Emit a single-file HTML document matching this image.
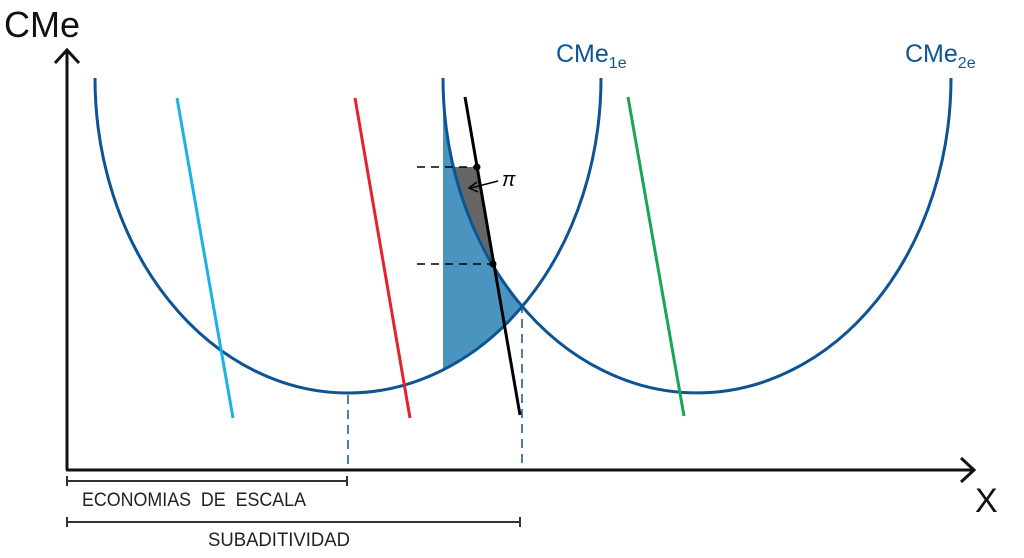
<!DOCTYPE html>
<html><head><meta charset="utf-8"><style>
html,body{margin:0;padding:0;background:#fff;}
svg{display:block;}
text{font-family:"Liberation Sans",sans-serif;}
</style></head><body>
<svg width="1024" height="558" viewBox="0 0 1024 558" xmlns="http://www.w3.org/2000/svg">
<defs>
<clipPath id="c1"><rect x="443" y="60" width="120" height="360"/></clipPath>
</defs>
<!-- shaded region -->
<g clip-path="url(#c1)">
<path d="M95,78 A253,315 0 0 0 601,78 Z" fill="#4a95c0"/>
<path d="M443,78 A254,315 0 0 0 951,78 Z" fill="#fff"/>
</g>
<polygon points="453,167 477,167 493,264 485,248 475,230 468,214 463,200 458,184" fill="#666"/>
<!-- curves -->
<path d="M95,78 A253,315 0 0 0 601,78" fill="none" stroke="#0d5494" stroke-width="3"/>
<path d="M443,78 A254,315 0 0 0 951,78" fill="none" stroke="#0d5494" stroke-width="3"/>
<!-- lines -->
<line x1="177" y1="98" x2="233" y2="418" stroke="#1ab1e6" stroke-width="3"/>
<line x1="355" y1="98" x2="410" y2="418" stroke="#e2222e" stroke-width="3"/>
<line x1="628" y1="97" x2="684" y2="416" stroke="#1aa552" stroke-width="3"/>
<line x1="465" y1="97" x2="520" y2="415" stroke="#000" stroke-width="3"/>
<!-- dashed -->
<line x1="417" y1="167" x2="477" y2="167" stroke="#000" stroke-width="1.5" stroke-dasharray="8,6"/>
<line x1="417" y1="264" x2="493" y2="264" stroke="#000" stroke-width="1.5" stroke-dasharray="8,6"/>
<line x1="348" y1="395" x2="348" y2="470" stroke="#0d5494" stroke-width="1.5" stroke-dasharray="9,6"/>
<line x1="522" y1="304" x2="522" y2="470" stroke="#0d5494" stroke-width="1.5" stroke-dasharray="9,6"/>
<circle cx="477" cy="167" r="3.5" fill="#000"/>
<circle cx="493" cy="264" r="3.5" fill="#000"/>
<!-- pi arrow -->
<line x1="498" y1="181" x2="471" y2="188" stroke="#000" stroke-width="1.5"/>
<path d="M477,182 L469,188 L478,192" fill="none" stroke="#000" stroke-width="1.5"/>
<text x="502" y="186" font-size="20" font-style="italic" fill="#000">π</text>
<!-- axes -->
<path d="M67,470 L67,50 M55,63 L67,50 L79,63" fill="none" stroke="#111" stroke-width="3"/>
<path d="M66,470 L973,470 M961,458 L974,470 L961,482" fill="none" stroke="#111" stroke-width="3"/>
<text x="4" y="37" font-size="36" fill="#111">CMe</text>
<text x="975" y="512" font-size="34" fill="#111">X</text>
<text x="556" y="62" font-size="25" fill="#0d5494">CMe<tspan font-size="16" dy="6">1e</tspan></text>
<text x="905" y="62" font-size="25" fill="#0d5494">CMe<tspan font-size="16" dy="6">2e</tspan></text>
<!-- brackets -->
<path d="M67,481 L347,481 M67,476 L67,486 M347,476 L347,486" stroke="#333" stroke-width="2" fill="none"/>
<path d="M67,522 L520,522 M67,517 L67,527 M520,517 L520,527" stroke="#333" stroke-width="2" fill="none"/>
<text x="82" y="506" font-size="19" fill="#222" textLength="224" lengthAdjust="spacingAndGlyphs">ECONOMIAS&#160;&#160;DE&#160;&#160;ESCALA</text>
<text x="208" y="546" font-size="19" fill="#222" textLength="142" lengthAdjust="spacingAndGlyphs">SUBADITIVIDAD</text>
</svg>
</body></html>
